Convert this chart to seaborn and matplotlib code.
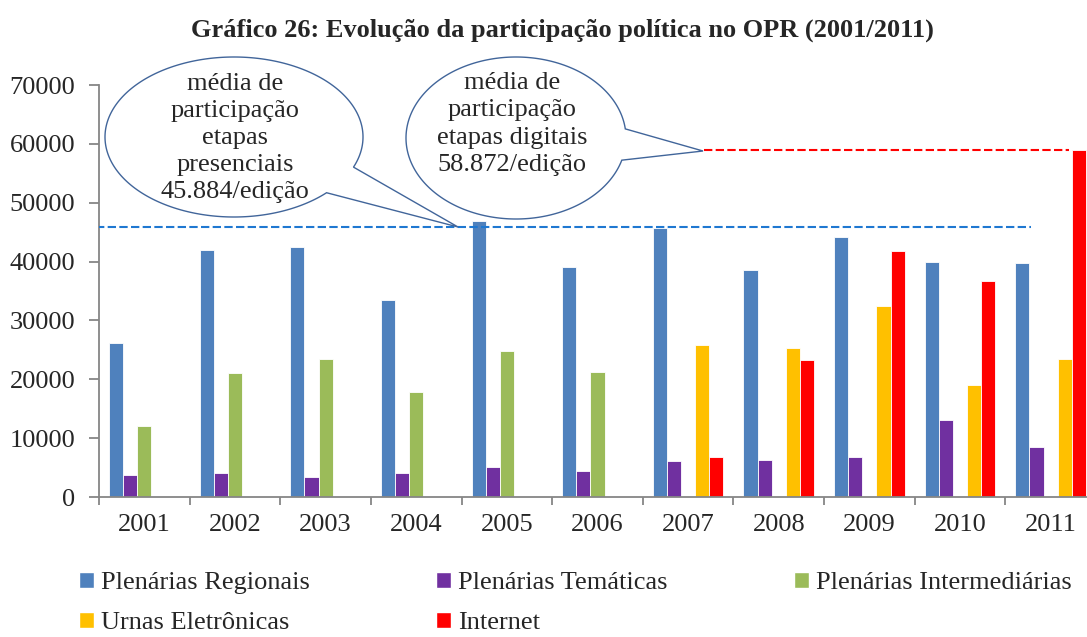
import numpy as np
import pandas as pd
import matplotlib
matplotlib.use("Agg")
import matplotlib.pyplot as plt
import seaborn as sns
from matplotlib.patches import Patch, Polygon

# data
anos = ['2001', '2002', '2003', '2004', '2005', '2006', '2007', '2008', '2009', '2010', '2011']
regionais = [26200, 41900, 42460, 33550, 46890, 39000, 45640, 38600, 44100, 39970, 39680]
tematicas = [3750, 4030, 3460, 4140, 5170, 4430, 6130, 6300, 6760, 13110, 8570]
intermediarias = [12000, 21060, 23500, 17770, 24750, 21170, np.nan, np.nan, np.nan, np.nan, np.nan]
urnas = [np.nan] * 6 + [25890, 25320, 32530, 19070, 23500]
internet = [np.nan] * 6 + [6870, 23330, 41840, 36730, 58872]
media_presencial = 45884
media_digital = 58872

series = ['Plenárias Regionais', 'Plenárias Temáticas', 'Plenárias Intermediárias',
          'Urnas Eletrônicas', 'Internet']
cores = ['#4F81BD', '#7030A0', '#9BBB59', '#FFC000', '#FF0000']

df = pd.DataFrame({'ano': anos, series[0]: regionais, series[1]: tematicas,
                   series[2]: intermediarias, series[3]: urnas, series[4]: internet})
df = df.melt(id_vars='ano', var_name='serie', value_name='valor').dropna()

sns.set_style('white')
plt.rcParams['font.family'] = ['Liberation Serif', 'DejaVu Serif']
FS = 19

W, H = 1087, 637
fig = plt.figure(figsize=(W / 100, H / 100), dpi=100)
ax = fig.add_axes([99 / W, 140 / H, 997 / W, 412 / H])

sns.barplot(data=df, x='ano', y='valor', hue='serie', hue_order=series,
            palette=dict(zip(series, cores)), order=anos, width=0.78, saturation=1,
            edgecolor='white', linewidth=0.6, errorbar=None, legend=False, ax=ax)

# average lines
ax.hlines(media_presencial, -0.53, 9.78, colors='#1F78D1', linestyles=(0, (4, 1.6)),
          linewidth=1.5, zorder=3)
ax.hlines(media_digital, 6.17, 10.2, colors='#FF0000', linestyles=(0, (4, 1.6)),
          linewidth=1.5, zorder=1)

ax.set_xlim(-0.5, 10.5)
ax.set_ylim(0, 70000)
ax.set_yticks(range(0, 70001, 10000))
ax.set_xticks(np.arange(-0.5, 11, 1))
ax.set_xticklabels([])
ax.set_xticks(range(len(anos)), minor=True)
ax.set_xticklabels(anos, minor=True)
ax.set_xlabel('')
ax.set_ylabel('')
gray = '#868686'
for s in ['top', 'right']:
    ax.spines[s].set_visible(False)
for s in ['left', 'bottom']:
    ax.spines[s].set_color(gray)
    ax.spines[s].set_linewidth(1.3)
ax.tick_params(axis='y', which='major', direction='out', length=7, width=1.3,
               color=gray, labelsize=FS, pad=10, left=True)
ax.tick_params(axis='x', which='major', direction='out', length=6, width=1.3,
               color=gray, bottom=True)
ax.tick_params(axis='x', which='minor', length=0, labelsize=FS, pad=12)

fig.text(562 / W, 1 - 30 / H, 'Gráfico 26: Evolução da participação política no OPR (2001/2011)',
         ha='center', va='center', fontsize=FS, fontweight='bold')

# legend, filled row by row like the original
handles = [Patch(facecolor=c, label=s) for s, c in zip(series, cores)]
order = [0, 3, 1, 4, 2]
fig.legend(handles=[handles[i] for i in order], loc='upper left',
           bbox_to_anchor=(79 / W, 1 - 572 / H), ncol=3, frameon=False,
           fontsize=FS, handlelength=0.55, handleheight=0.55, handletextpad=0.27,
           columnspacing=4.8, labelspacing=0.66, borderpad=0, borderaxespad=0)

# speech-bubble callouts drawn in pixel coordinates
ov = fig.add_axes([0, 0, 1, 1])
ov.set_xlim(0, W)
ov.set_ylim(H, 0)
ov.axis('off')


def balao(cx, cy, a, b, p1, p2, ponta):
    t1 = np.arctan2((p1[1] - cy) / b, (p1[0] - cx) / a)
    t2 = np.arctan2((p2[1] - cy) / b, (p2[0] - cx) / a)
    d = (t2 - t1) % (2 * np.pi)
    if d < np.pi:
        ts = t2 + np.linspace(0, 2 * np.pi - d, 300)
    else:
        ts = t1 + np.linspace(0, d, 300)
    pts = np.column_stack([cx + a * np.cos(ts), cy + b * np.sin(ts)])
    pts = np.vstack([pts, ponta])
    ov.add_patch(Polygon(pts, closed=True, facecolor='white', edgecolor='#41659A',
                         linewidth=1.0, joinstyle='miter'))


balao(234, 137, 129, 80, (353, 167), (327, 193), (458, 227))
balao(516, 138, 110, 81, (624, 129), (621, 160), (703, 151))

ov.text(235, 138, 'média de\nparticipação\netapas\npresenciais\n45.884/edição',
        ha='center', va='center', fontsize=FS, linespacing=1.3)
ov.text(512, 124, 'média de\nparticipação\netapas digitais\n58.872/edição',
        ha='center', va='center', fontsize=FS, linespacing=1.3)

fig.savefig('out.png', dpi=100)
